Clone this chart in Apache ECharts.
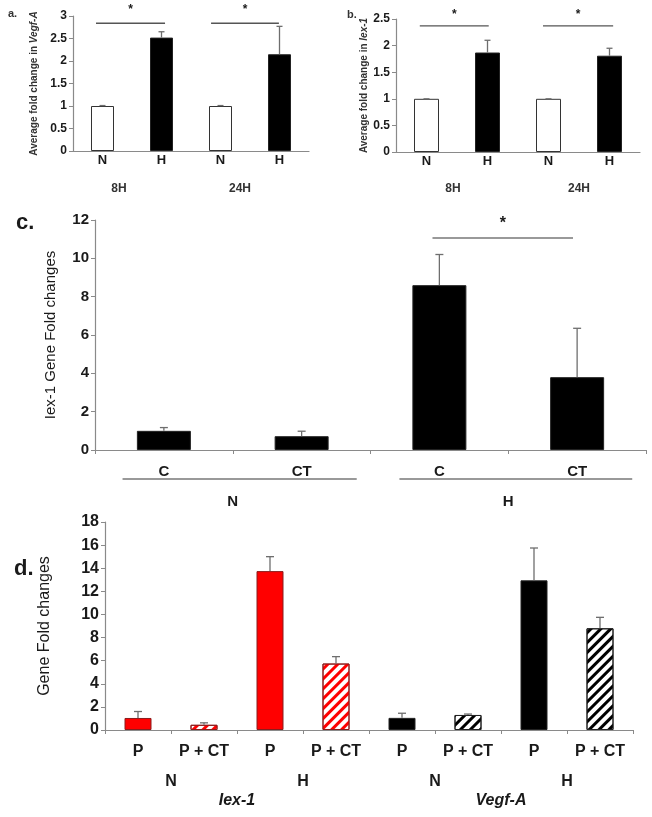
<!DOCTYPE html>
<html><head><meta charset="utf-8">
<script src="https://cdn.jsdelivr.net/npm/echarts@6/dist/echarts.min.js"></script>
<style>html,body{margin:0;padding:0;background:#fff}#c{width:652px;height:817px}</style>
</head><body><div id="c"></div>
<script>
// ---------- Panel a: Vegf-A ----------
const aCats = ['N', 'H', 'N', 'H'];
const aValues = [1.0, 2.52, 1.0, 2.15];
const aErrTop = [1.01, 2.65, 1.01, 2.77];
const aTimes = ['8H', '24H'];
// significance: [fromCat, toCat, y, star]
const aSig = [[-0.11, 1.06, 2.84, 1], [1.84, 2.99, 2.84, 1]];

// ---------- Panel b: Iex-1 ----------
const bCats = ['N', 'H', 'N', 'H'];
const bValues = [1.0, 1.87, 1.0, 1.81];
const bErrTop = [1.0, 2.1, 1.0, 1.95];
const bTimes = ['8H', '24H'];
const bSig = [[-0.11, 1.02, 2.37, 1], [1.91, 3.06, 2.37, 1]];

// ---------- Panel c ----------
const cCats = ['C', 'CT', 'C', 'CT'];
const cGroups = ['N', 'H'];
const cValues = [1.0, 0.72, 8.6, 3.8];
const cErrTop = [1.17, 0.98, 10.2, 6.35];
const cSig = [[1.95, 2.97, 11.06, 1], [-0.30, 1.40, -1.51, 0], [1.71, 3.40, -1.51, 0]];

// ---------- Panel d ----------
const dCats = ['P', 'P + CT', 'P', 'P + CT', 'P', 'P + CT', 'P', 'P + CT'];
const dOxygen = ['N', 'H', 'N', 'H'];
const dGenes = ['Iex-1', 'Vegf-A'];
const dValues = [1.04, 0.45, 13.75, 5.75, 1.05, 1.3, 12.95, 8.8];
const dErrTop = [1.6, 0.62, 15.0, 6.35, 1.45, 1.38, 15.75, 9.75];
const dGeneOf = [0, 0, 0, 0, 1, 1, 1, 1];
const dHatched = [false, true, false, true, false, true, false, true];

const AXIS = '#8a8a8a';
const TXT = '#1a1a1a';
const ERR = '#6e6e6e';

function errRender(capHalf) {
  return function (params, api) {
    const x = api.value(0), lo = api.value(1), hi = api.value(2);
    const p1 = api.coord([x, lo]), p2 = api.coord([x, hi]);
    return {
      type: 'group', children: [
        { type: 'line', shape: { x1: p1[0], y1: p1[1], x2: p2[0], y2: p2[1] }, style: { stroke: ERR, lineWidth: 1.3 } },
        { type: 'line', shape: { x1: p2[0] - capHalf, y1: p2[1], x2: p2[0] + capHalf, y2: p2[1] }, style: { stroke: ERR, lineWidth: 1.3 } }
      ]
    };
  };
}
function sigRender(starGap, starSize, lineColor) {
  return function (params, api) {
    const y = api.value(3);
    const c0 = api.coord([0, y]), c1 = api.coord([1, y]);
    const step = c1[0] - c0[0];
    const xa = c0[0] + api.value(1) * step, xb = c0[0] + api.value(2) * step;
    const ch = [{ type: 'line', shape: { x1: xa, y1: c0[1], x2: xb, y2: c0[1] }, style: { stroke: lineColor, lineWidth: 1.4 } }];
    if (api.value(4)) {
      ch.push({ type: 'text', x: (xa + xb) / 2, y: c0[1] - starGap,
        style: { text: '*', fill: TXT, font: 'bold ' + starSize + 'px "Liberation Sans", Arial', align: 'center', verticalAlign: 'middle' } });
    }
    return { type: 'group', children: ch };
  };
}
function errData(vals, tops) { return vals.map((v, i) => [i, v, tops[i]]); }
function sigData(s) { return s.map(r => [0, r[0], r[1], r[2], r[3]]); }

function yAx(grid, max, interval, fs, name, gap, nameStyle) {
  return {
    type: 'value', gridIndex: grid, min: 0, max: max, interval: interval,
    axisLine: { show: true, lineStyle: { color: AXIS, width: 1.2 } },
    axisTick: { show: true, inside: false, length: 4, lineStyle: { color: AXIS } },
    splitLine: { show: false },
    axisLabel: { color: TXT, fontSize: fs, fontWeight: 'bold', fontFamily: '"Liberation Sans", Arial', margin: 6 },
    name: name, nameLocation: 'middle', nameGap: gap, nameRotate: 90,
    nameTextStyle: nameStyle
  };
}
function xAx(grid, data, fs, margin, opts) {
  return Object.assign({
    type: 'category', gridIndex: grid, data: data, position: 'bottom',
    axisLine: { show: true, lineStyle: { color: AXIS, width: 1.2 } },
    axisTick: { show: false },
    axisLabel: { color: TXT, fontSize: fs, fontWeight: 'bold', fontFamily: '"Liberation Sans", Arial', margin: margin, interval: 0 }
  }, opts || {});
}
function labelAx(grid, data, fs, offset, extra) {
  return {
    type: 'category', gridIndex: grid, data: data, position: 'bottom', offset: offset,
    axisLine: { show: false }, axisTick: { show: false },
    axisLabel: Object.assign({ color: TXT, fontSize: fs, fontWeight: 'bold', fontFamily: '"Liberation Sans", Arial', margin: 0, interval: 0, verticalAlign: 'middle' }, extra || {})
  };
}

const smallName = () => ({
  color: '#333', fontSize: 10, fontWeight: 'bold', fontFamily: '"Liberation Sans", Arial',
  rich: { n: { fontSize: 10, fontWeight: 'bold', color: '#333' }, i: { fontSize: 10, fontWeight: 'bold', fontStyle: 'italic', color: '#333' } }
});

const openBlack = (vals) => vals.map((v, i) => ({
  value: v,
  itemStyle: i % 2 === 0 ? { color: '#ffffff', borderColor: '#333', borderWidth: 1 } : { color: '#000000', borderColor: '#222', borderWidth: 1 }
}));

const geneColor = ['#ff0000', '#000000'];
const geneBorder = ['#8a1c1c', '#222222'];
const dData = dValues.map((v, i) => {
  const g = dGeneOf[i];
  const st = dHatched[i]
    ? { color: '#ffffff', borderColor: geneBorder[g], borderWidth: 1,
        decal: { symbol: 'rect', symbolSize: 1, color: geneColor[g], dashArrayX: [1, 0], dashArrayY: [3, 4], rotation: -Math.PI / 4 } }
    : { color: geneColor[g], borderColor: geneBorder[g], borderWidth: 1 };
  return { value: v, itemStyle: st };
});

const option = {
  animation: false,
  backgroundColor: '#ffffff',
  textStyle: { fontFamily: '"Liberation Sans", Arial' },
  grid: [
    { left: 73, top: 16, width: 236, height: 135 },
    { left: 396, top: 19, width: 244, height: 133 },
    { left: 95, top: 220, width: 551, height: 230 },
    { left: 105, top: 522, width: 528, height: 208 }
  ],
  xAxis: [
    xAx(0, aCats, 13, 3),
    xAx(1, bCats, 13, 3),
    xAx(2, cCats, 15, 14, { axisTick: { show: true, length: 4, lineStyle: { color: AXIS } } }),
    labelAx(2, cGroups, 15, 52),
    xAx(3, dCats, 16, 14, { axisTick: { show: true, length: 4, lineStyle: { color: AXIS } } }),
    labelAx(3, dOxygen, 16, 52),
    labelAx(3, dGenes, 16, 71, { fontStyle: 'italic' })
  ],
  yAxis: [
    yAx(0, 3, 0.5, 12, '{n|Average fold change in }{i|Vegf-A}', 34, smallName()),
    yAx(1, 2.5, 0.5, 12, '{n|Average fold change in }{i|Iex-1}', 24, smallName()),
    yAx(2, 12, 2, 15, 'Iex-1 Gene Fold changes', 37, { color: TXT, fontSize: 15, fontFamily: '"Liberation Sans", Arial' }),
    yAx(3, 18, 2, 16, 'Gene Fold changes', 52, { color: TXT, fontSize: 16, fontFamily: '"Liberation Sans", Arial' })
  ],
  series: [
    { type: 'bar', xAxisIndex: 0, yAxisIndex: 0, barWidth: 23, data: openBlack(aValues) },
    { type: 'custom', xAxisIndex: 0, yAxisIndex: 0, renderItem: errRender(3), data: errData(aValues, aErrTop), z: 3 },
    { type: 'custom', xAxisIndex: 0, yAxisIndex: 0, renderItem: sigRender(14, 12, '#555'), data: sigData(aSig), encode: { x: 0, y: 3 }, clip: false },

    { type: 'bar', xAxisIndex: 1, yAxisIndex: 1, barWidth: 25, data: openBlack(bValues) },
    { type: 'custom', xAxisIndex: 1, yAxisIndex: 1, renderItem: errRender(3), data: errData(bValues, bErrTop), z: 3 },
    { type: 'custom', xAxisIndex: 1, yAxisIndex: 1, renderItem: sigRender(11, 12, '#555'), data: sigData(bSig), encode: { x: 0, y: 3 }, clip: false },

    { type: 'bar', xAxisIndex: 2, yAxisIndex: 2, barWidth: 54, data: cValues, itemStyle: { color: '#000', borderColor: '#222', borderWidth: 1 } },
    { type: 'custom', xAxisIndex: 2, yAxisIndex: 2, renderItem: errRender(4), data: errData(cValues, cErrTop), z: 3 },
    { type: 'custom', xAxisIndex: 2, yAxisIndex: 2, renderItem: sigRender(14, 16, '#777'), data: sigData(cSig), encode: { x: 0, y: 3 }, clip: false },

    { type: 'bar', xAxisIndex: 4, yAxisIndex: 3, barWidth: 27, data: dData },
    { type: 'custom', xAxisIndex: 4, yAxisIndex: 3, renderItem: errRender(4), data: errData(dValues, dErrTop), z: 3 }
  ],
  graphic: [
    { type: 'text', left: 8, top: 8, style: { text: 'a.', font: 'bold 11px "Liberation Sans", Arial', fill: '#333' } },
    { type: 'text', left: 347, top: 9, style: { text: 'b.', font: 'bold 11px "Liberation Sans", Arial', fill: '#333' } },
    { type: 'text', left: 16, top: 212, style: { text: 'c.', font: 'bold 22px "Liberation Sans", Arial', fill: TXT } },
    { type: 'text', left: 14, top: 558, style: { text: 'd.', font: 'bold 22px "Liberation Sans", Arial', fill: TXT } },
    { type: 'text', x: 119, y: 189, style: { text: aTimes[0], font: 'bold 12px "Liberation Sans", Arial', fill: '#333', align: 'center', verticalAlign: 'middle' } },
    { type: 'text', x: 240, y: 189, style: { text: aTimes[1], font: 'bold 12px "Liberation Sans", Arial', fill: '#333', align: 'center', verticalAlign: 'middle' } },
    { type: 'text', x: 453, y: 189, style: { text: bTimes[0], font: 'bold 12px "Liberation Sans", Arial', fill: '#333', align: 'center', verticalAlign: 'middle' } },
    { type: 'text', x: 579, y: 189, style: { text: bTimes[1], font: 'bold 12px "Liberation Sans", Arial', fill: '#333', align: 'center', verticalAlign: 'middle' } }
  ]
};
const chart = echarts.init(document.getElementById('c'), null, { renderer: 'canvas' });
chart.setOption(option);
</script>
</body></html>
